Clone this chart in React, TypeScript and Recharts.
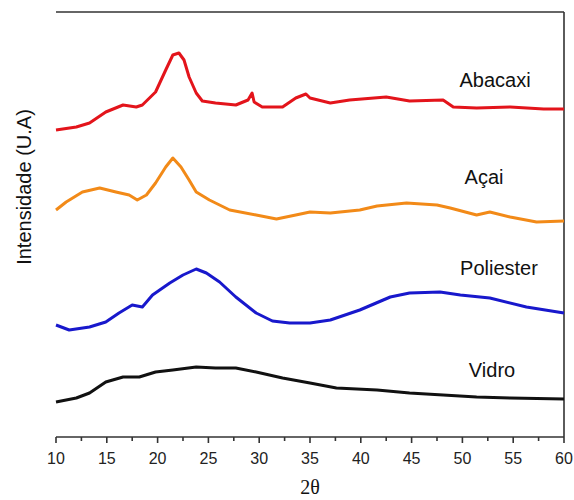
import { LineChart, Line, XAxis, YAxis, ReferenceLine } from "recharts";

// 2θ positions (one list per pattern) and the offset intensities
const abacaxiX = [10, 12, 13.3, 14.9, 16.6, 17.9, 18.5, 19.8, 20.8, 21.5, 22.1, 22.6, 23.1, 23.8, 24.4, 25.7, 27.7, 28.9, 29.3, 29.5, 30.3, 32.3, 33.6, 34.6, 35, 37, 38.9, 42.5, 44.8, 48.1, 49.1, 51.4, 54.7, 58, 60];
const abacaxiY = [307, 310, 314, 325, 332, 330, 332, 345, 367, 382, 384, 377, 360, 344, 336, 334, 332, 337, 344, 335, 330, 330, 339, 343, 339, 334, 337, 340, 336, 337, 330, 329, 330, 328, 328];

const acaiX = [10, 11, 12.6, 14.3, 15.9, 17.2, 18, 18.9, 19.8, 20.8, 21.5, 22.3, 23.1, 23.8, 25.1, 27.1, 29.7, 31.7, 33.6, 35, 37, 39.9, 41.6, 44.5, 47.5, 48.8, 51.4, 52.7, 54.7, 57.3, 60];
const acaiY = [227, 235, 245, 249, 245, 242, 237, 242, 254, 270, 279, 270, 257, 245, 237, 227, 222, 218, 222, 225, 224, 227, 231, 234, 232, 229, 222, 225, 220, 215, 216];

const poliesterX = [10, 11.3, 13.3, 14.9, 16.2, 17.5, 18.5, 19.5, 21.2, 22.5, 23.8, 24.8, 26.1, 27.7, 29.7, 31.3, 33, 35, 37, 39.9, 42.9, 44.8, 47.8, 49.8, 52.7, 56.3, 60];
const poliesterY = [112, 107, 110, 115, 124, 132, 130, 142, 154, 162, 168, 164, 155, 140, 124, 116, 114, 114, 117, 127, 140, 144, 145, 142, 139, 130, 124];

const vidroX = [10, 12, 13.3, 14.9, 16.6, 18.2, 19.8, 21.5, 23.8, 25.7, 27.7, 29.7, 32.3, 35, 37.6, 41.6, 44.8, 48.1, 51.4, 54.7, 60];
const vidroY = [35, 39, 44, 55, 60, 60, 65, 67, 70, 69, 69, 65, 59, 54, 49, 47, 44, 42, 40, 39, 38];

// every 2.5°; the whole-5 ones get a label
const xTicks = [10, 12.5, 15, 17.5, 20, 22.5, 25, 27.5, 30, 32.5, 35, 37.5, 40, 42.5, 45, 47.5, 50, 52.5, 55, 57.5, 60];

const toPoints = (xs: number[], ys: number[]) => xs.map((x, i) => ({ x, y: ys[i] }));

const series = [
  { name: "Abacaxi", data: toPoints(abacaxiX, abacaxiY), color: "#e3141b", lx: 495, ly: 80 },
  { name: "Açai", data: toPoints(acaiX, acaiY), color: "#f28a18", lx: 484, ly: 177 },
  { name: "Poliester", data: toPoints(poliesterX, poliesterY), color: "#1818cc", lx: 499, ly: 268 },
  { name: "Vidro", data: toPoints(vidroX, vidroY), color: "#111111", lx: 492, ly: 370 },
];

const FONT = "'Liberation Sans', Arial, sans-serif";
const AXIS = "#333";

function XTick({ x, y, payload }: any) {
  const v = Number(payload?.value);
  const major = v % 5 === 0;
  return (
    <g>
      <line x1={x} x2={x} y1={y} y2={y + (major ? 6 : 4)} stroke={AXIS} strokeWidth={1.6} />
      {major && (
        <text x={x} y={y + 27} textAnchor="middle" fontSize={16} fontFamily={FONT} fill="#222">
          {v}
        </text>
      )}
    </g>
  );
}

function Overlay({ x, y, size, rotate, font, children }: any) {
  return (
    <div
      style={{
        position: "absolute",
        left: x,
        top: y,
        transform: `translate(-50%, -50%)${rotate ? ` rotate(${rotate}deg)` : ""}`,
        fontFamily: font ?? FONT,
        fontSize: size,
        color: "#111",
        whiteSpace: "nowrap",
        lineHeight: 1,
      }}
    >
      {children}
    </div>
  );
}

export default function App() {
  return (
    <div style={{ position: "fixed", left: 0, top: 0, width: 574, height: 500, background: "#fff" }}>
      <LineChart width={574} height={500} margin={{ top: 12, right: 10, bottom: 33, left: 56 }}>
        <XAxis
          type="number"
          dataKey="x"
          domain={[10, 60]}
          ticks={xTicks}
          interval={0}
          tickSize={0}
          tickMargin={0}
          height={30}
          axisLine={{ stroke: AXIS, strokeWidth: 1.6 }}
          tickLine={false}
          tick={<XTick />}
        />
        <YAxis
          type="number"
          domain={[0, 425]}
          width={0}
          tick={false}
          tickLine={false}
          axisLine={{ stroke: AXIS, strokeWidth: 1.6 }}
        />
        {/* top and right edges of the frame */}
        <ReferenceLine y={425} stroke={AXIS} strokeWidth={1.6} />
        <ReferenceLine x={60} stroke={AXIS} strokeWidth={1.6} />
        {series.map((s) => (
          <Line
            key={s.name}
            data={s.data}
            dataKey="y"
            name={s.name}
            type="linear"
            stroke={s.color}
            strokeWidth={3}
            strokeLinejoin="round"
            dot={false}
            isAnimationActive={false}
          />
        ))}
      </LineChart>

      {series.map((s) => (
        <Overlay key={s.name} x={s.lx} y={s.ly} size={20}>
          {s.name}
        </Overlay>
      ))}
      <Overlay x={24} y={187} size={20} rotate={-90}>
        Intensidade (U.A)
      </Overlay>
      <Overlay x={310} y={487} size={20} font="'Liberation Serif', 'Times New Roman', serif">
        2θ
      </Overlay>
    </div>
  );
}
